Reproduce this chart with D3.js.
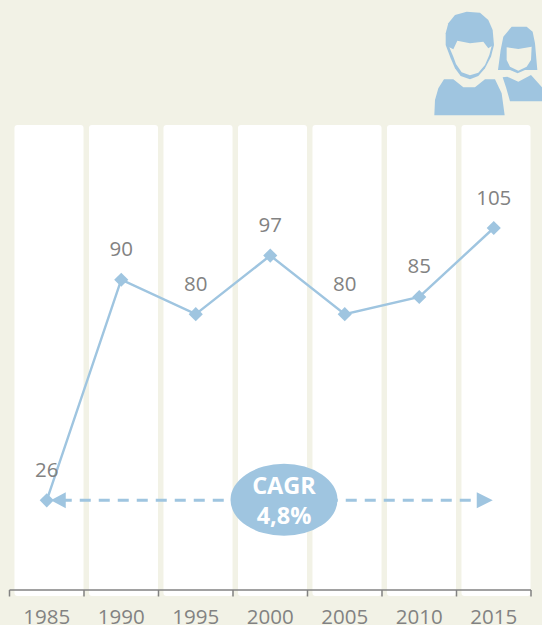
<!DOCTYPE html>
<html><head><meta charset="utf-8">
<script src="https://cdn.jsdelivr.net/npm/d3@7"></script>
<style>html,body{margin:0;padding:0;background:#f2f2e6;overflow:hidden}svg{display:block}text{font-family:"Open Sans","Noto Sans",sans-serif}</style>
</head><body><svg id="c" width="542" height="625"></svg>
<script>
const years = ["1985","1990","1995","2000","2005","2010","2015"];
const values = [26,90,80,97,80,85,105];
const cagrLabel = ["CAGR","4,8%"];
const blue = "#9fc5e0", grey = "#828282", bg = "#f2f2e6";

const svg = d3.select("#c");
const x = d3.scaleBand().domain(years).range([9.5,531]);
const y = d3.scaleLinear().domain([0,105]).range([590,228]);

svg.selectAll("rect.col").data(years).join("rect").attr("class","col")
  .attr("x",d=>x(d)+5).attr("width",x.bandwidth()-5.5)
  .attr("y",125).attr("height",471).attr("rx",3).attr("fill","#fff");

// axis
const axis = svg.append("g").attr("transform","translate(0,590)");
axis.append("line").attr("x1",9.5).attr("x2",531).attr("stroke",grey).attr("stroke-width",1.5);
axis.selectAll("line.t").data(years.concat(["end"])).join("line").attr("class","t")
  .attr("x1",(d,i)=>9.5+i*x.step()).attr("x2",(d,i)=>9.5+i*x.step())
  .attr("y1",0).attr("y2",6.5).attr("stroke",grey).attr("stroke-width",1.5);
svg.selectAll("text.yr").data(years).join("text").attr("class","yr")
  .attr("x",d=>x(d)+x.bandwidth()/2).attr("y",624).attr("text-anchor","middle")
  .attr("font-size",20.5).attr("fill",grey).text(d=>d);

const cx = (d,i)=>x(years[i])+x.bandwidth()/2;
const line = d3.line().x((d,i)=>cx(d,i)).y(d=>y(d));
svg.append("path").datum(values).attr("d",line).attr("fill","none").attr("stroke",blue).attr("stroke-width",2.4);

const sym = d3.symbol().type(d3.symbolSquare).size(100);
svg.selectAll("path.pt").data(values).join("path").attr("class","pt")
  .attr("d",sym).attr("fill",blue)
  .attr("transform",(d,i)=>`translate(${cx(d,i)},${y(d)}) rotate(45)`);

svg.selectAll("text.val").data(values).join("text").attr("class","val")
  .attr("x",cx).attr("y",d=>y(d)-23.5).attr("text-anchor","middle")
  .attr("font-size",20.5).attr("fill",grey).text(d=>d);

// CAGR arrow
const ay = y(values[0]);
const first = cx(0,0), last = cx(0,6);
svg.append("line").attr("x1",first+14).attr("x2",last-12).attr("y1",ay).attr("y2",ay)
  .attr("stroke",blue).attr("stroke-width",3).attr("stroke-dasharray","11 8");
svg.append("path").attr("fill",blue).attr("d",`M${first+4},${ay}l15,-8v16z`);
svg.append("path").attr("fill",blue).attr("d",`M${last-1},${ay}l-16,-8v16z`);
svg.append("ellipse").attr("cx",284).attr("cy",ay-0.5).attr("rx",53.5).attr("ry",36).attr("fill",blue);
svg.selectAll("text.cagr").data(cagrLabel).join("text").attr("class","cagr")
  .attr("x",284).attr("y",(d,i)=>494+i*29.5).attr("text-anchor","middle")
  .attr("font-size",23.5).attr("font-weight",700).attr("fill","#fff").text(d=>d);

// people icon
const icon = svg.append("g").attr("transform","translate(420,0) scale(0.3333)");
const shapes = [
 ["M77,100L85,70L105,45L140,35L180,38L205,60L218,90L222,135L213,170L195,205L175,228L150,238L122,228L105,205L92,175L77,135Z",blue],
 ["M88,142L100,148L112,122L150,130L190,125L205,145L215,138L208,165L195,195L175,218L150,226L125,217L108,192L100,170Z",bg],
 ["M43,346L45,300L55,265L72,238L100,238L130,262L165,262L195,238L225,238L245,280L254,346Z",blue],
 ["M234,210L242,150L250,110L275,80L320,80L338,95L345,130L352,210L315,210L293,220L270,210Z",blue],
 ["M260,142L295,147L335,140L333,180L320,200L295,212L270,200L260,180Z",bg],
 ["M248,232L262,230L295,245L333,225L366,262L366,304L270,304L258,262Z",blue]
];
icon.selectAll("path").data(shapes).join("path").attr("d",d=>d[0]).attr("fill",d=>d[1]);
</script></body></html>
